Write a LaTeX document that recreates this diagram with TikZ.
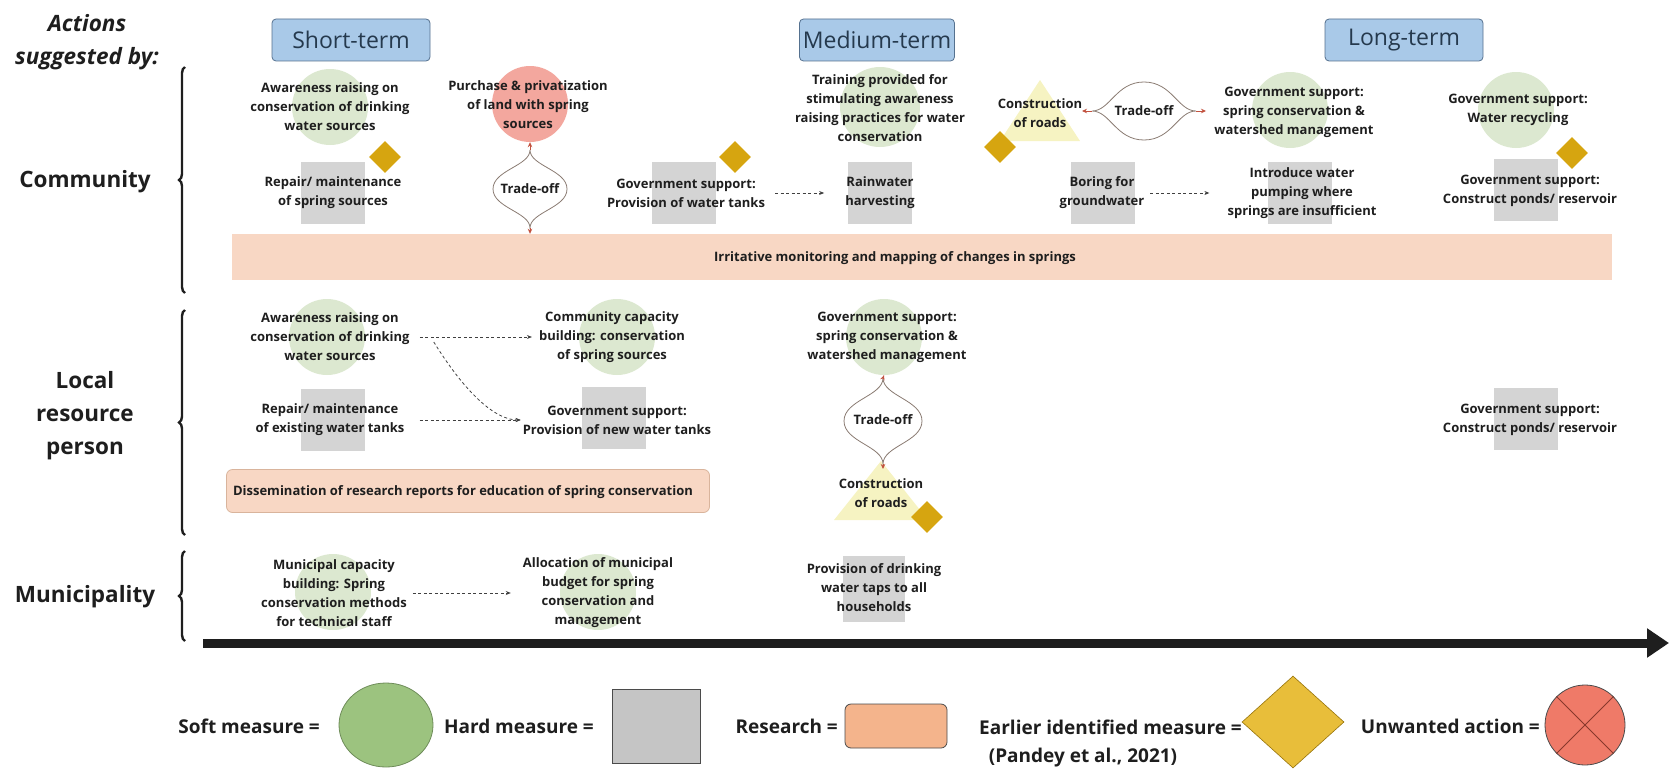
\documentclass[tikz,border=0pt]{standalone}
\usepackage{fontspec}
\setmainfont{Open Sans}
\usetikzlibrary{shapes.geometric,arrows.meta,decorations.pathreplacing}

\definecolor{ink}{HTML}{1E1E1E}
\definecolor{softc}{HTML}{DCE8D0}
\definecolor{hardc}{HTML}{D4D4D4}
\definecolor{unwc}{HTML}{F3A79E}
\definecolor{resc}{HTML}{F8D7C4}
\definecolor{resline}{HTML}{D9B49C}
\definecolor{goldc}{HTML}{D6A510}
\definecolor{roadc}{HTML}{F6F3C2}
\definecolor{termfill}{HTML}{A9C9E8}
\definecolor{termline}{HTML}{55718F}
\definecolor{termtext}{HTML}{25394D}
\definecolor{lensc}{HTML}{8A7B72}
\definecolor{tipc}{HTML}{C2523F}
\definecolor{lgsoft}{HTML}{9CC37F}
\definecolor{lgsoftb}{HTML}{6E8C59}
\definecolor{lghard}{HTML}{C5C5C5}
\definecolor{lgres}{HTML}{F4B48C}
\definecolor{lggold}{HTML}{E8BE3A}
\definecolor{lgred}{HTML}{EF7A68}

\begin{document}
\begin{tikzpicture}[x=1pt,y=-1pt,
  lbl/.style={font=\fontsize{13}{19}\selectfont\bfseries, text=ink, align=center, inner sep=0pt},
  rowlbl/.style={font=\fontsize{22.5}{33}\selectfont\bfseries, text=ink, align=center, inner sep=0pt},
  legendlbl/.style={font=\fontsize{19}{30}\selectfont\bfseries, text=ink, align=center, inner sep=0pt},
  term/.style={draw=termline, fill=termfill, rounded corners=4pt, line width=0.8pt,
    minimum width=158pt, minimum height=42pt, text=termtext, font=\fontsize{23}{26}\selectfont},
  soft/.style={circle, fill=softc, minimum size=76pt, inner sep=0pt},
  hard/.style={rectangle, fill=hardc, minimum width=64pt, minimum height=62pt, inner sep=0pt},
  unwanted/.style={circle, fill=unwc, minimum size=76pt, inner sep=0pt},
  earlier/.style={diamond, fill=goldc, minimum size=32pt, inner sep=0pt},
  research/.style={rectangle, fill=resc, inner sep=0pt},
  bracepath/.style={decorate, decoration={brace, amplitude=6pt, aspect=0.5}, line width=2.4pt, ink},
  lens/.style={draw=lensc, line width=0.8pt, fill=white},
  tiparrow/.style={draw=tipc, line width=0.8pt, -{Stealth[length=5pt,width=4.5pt]}},
  flow/.style={draw=ink!85, line width=0.8pt, dash pattern=on 3pt off 2.5pt, -{Stealth[length=5pt,width=4pt]}},
]
\useasboundingbox (0,0) rectangle (1669,768);

% ---------- headings ----------
\node[font=\fontsize{22.5}{33}\selectfont\bfseries\itshape, text=ink, align=center, inner sep=0pt] (hdr) at (87,42) {Actions\\suggested by:};
\node[term] (short) at (351,40) {Short-term};
\node[term, minimum width=155pt] (medium) at (877,40) {Medium-term};
\node[term] (long) at (1404,40) {Long-term};

% ---------- row labels and braces ----------
\node[rowlbl] (comm) at (85,182) {Community};
\node[rowlbl] (lrp) at (85,416) {Local\\resource\\person};
\node[rowlbl] (muni) at (85,597) {Municipality};
\draw[bracepath] (185,293) -- (185,67);
\draw[bracepath] (185,535) -- (185,310);
\draw[bracepath] (185,641) -- (185,551);

% ---------- research bands ----------
\node[research, minimum width=1380pt, minimum height=46pt] (band1) at (922,257) {};
\node[lbl] (band1t) at (895,258) {Irritative monitoring and mapping of changes in springs};
\node[research, draw=resline, line width=0.8pt, rounded corners=6pt, minimum width=483pt, minimum height=43pt] (band2) at (468,491) {};
\node[lbl] (band2t) at (463,492) {Dissemination of research reports for education of spring conservation};

% ---------- community: shapes ----------
\node[soft] (c1s) at (330,107) {};
\node[hard] (c2s) at (333,193) {};
\node[earlier] (c1d) at (385,157) {};
\node[unwanted] (c3s) at (530,104) {};
\node[hard] (c4s) at (684,193) {};
\node[earlier] (c4d) at (735,157) {};
\node[hard] (c5s) at (880,193) {};
\node[soft, minimum size=80pt] (c6s) at (880,107) {};
\fill[roadc] (1040,80) -- (1080,141) -- (1000,141) -- cycle;
\coordinate (c7s) at (1040,110);
\node[earlier] (c7d) at (1000,147) {};
\node[soft] (c8s) at (1290,110) {};
\node[hard] (c9s) at (1103,193) {};
\node[hard] (c10s) at (1300,193) {};
\node[soft] (c11s) at (1516,110) {};
\node[earlier] (c11d) at (1572,153) {};
\node[hard] (c12s) at (1526,190) {};

% ---------- community: texts ----------
\node[lbl] (c1) at (330,107) {Awareness raising on\\conservation of drinking\\water sources};
\node[lbl] (c2) at (333,193) {Repair/ maintenance\\of spring sources};
\node[lbl] (c3) at (528,105) {Purchase \& privatization\\of land with spring\\sources};
\node[lbl] (c4) at (686,193) {Government support:\\Provision of water tanks};
\node[lbl] (c5) at (880,193) {Rainwater\\harvesting};
\node[lbl] (c6) at (880,108) {Training provided for\\stimulating awareness\\raising practices for water\\conservation};
\node[lbl] (c7) at (1040,113) {Construction\\of roads};
\node[lbl] (c8) at (1294,112) {Government support:\\spring conservation \&\\watershed management};
\node[lbl] (c9) at (1102,193) {Boring for\\groundwater};
\node[lbl] (c10) at (1302,193) {Introduce water\\pumping where\\springs are insufficient};
\node[lbl] (c11) at (1518,110) {Government support:\\Water recycling};
\node[lbl] (c12) at (1530,191) {Government support:\\Construct ponds/ reservoir};

% trade-off between purchase of land and the monitoring band
\coordinate (v1t) at (530,150);
\coordinate (v1b) at (530,228);
\draw[lens] (530,150) .. controls (530,166) and (567,170) .. (567,189)
  .. controls (567,208) and (530,212) .. (530,228)
  .. controls (530,212) and (493,208) .. (493,189)
  .. controls (493,170) and (530,166) .. (530,150);
\node[lbl] (to1) at (530,189) {Trade-off};
\draw[tiparrow] (v1t) -- (c3s.south);
\draw[tiparrow] (v1b) -- (band1.north -| v1b);

% trade-off between road construction and spring conservation
\coordinate (h1l) at (1092,111);
\coordinate (h1r) at (1196,111);
\coordinate (h1la) at (1082,111);
\coordinate (h1ra) at (1206,111);
\draw[lens] (1092,111) .. controls (1110,111) and (1116,82) .. (1144,82)
  .. controls (1172,82) and (1178,111) .. (1196,111)
  .. controls (1178,111) and (1172,140) .. (1144,140)
  .. controls (1116,140) and (1110,111) .. (1092,111);
\node[lbl] (to2) at (1144,111) {Trade-off};
\draw[tiparrow] (h1l) -- (h1la);
\draw[tiparrow] (h1r) -- (h1ra);

% community flows
\draw[flow] ([xshift=10pt]c4.east) -- ([xshift=-21pt]c5.west);
\draw[flow] ([xshift=6pt]c9.east) -- ([xshift=-18pt]c10.west);

% ---------- local resource person ----------
\node[soft] (l1s) at (327,337) {};
\node[soft] (l2s) at (617,337) {};
\node[hard] (l3s) at (333,420) {};
\node[hard] (l4s) at (614,418) {};
\node[soft] (l5s) at (884,337) {};
\fill[roadc] (881,461) -- (928,520) -- (834,520) -- cycle;
\node[earlier] (l6d) at (927,517) {};
\node[hard] (l7s) at (1526,419) {};

\node[lbl] (l1) at (330,337) {Awareness raising on\\conservation of drinking\\water sources};
\node[lbl] (l2) at (612,337) {Community capacity\\building: conservation\\of spring sources};
\node[lbl] (l3) at (330,420) {Repair/ maintenance\\of existing water tanks};
\node[lbl] (l4) at (617,420) {Government support:\\Provision of new water tanks};
\node[lbl] (l5) at (887,337) {Government support:\\spring conservation \&\\watershed management};
\node[lbl] (l6) at (881,493) {Construction\\of roads};
\node[lbl] (l7) at (1530,420) {Government support:\\Construct ponds/ reservoir};

\coordinate (v2t) at (883,378);
\coordinate (v2b) at (883,464);
\draw[lens] (883,378) .. controls (883,396) and (922,400) .. (922,421)
  .. controls (922,442) and (883,446) .. (883,464)
  .. controls (883,446) and (844,442) .. (844,421)
  .. controls (844,400) and (883,396) .. (883,378);
\node[lbl] (to3) at (883,420) {Trade-off};
\draw[tiparrow] (v2t) -- (l5s.south);
\draw[tiparrow] (v2b) -- ++(0,5);

% local resource person flows (canvas shifts: negative yshift is downwards)
\draw[flow] ([xshift=10pt]l1.east) -- ([xshift=-7pt]l2.west);
\draw[flow] ([xshift=24pt,yshift=-5pt]l1.east) .. controls ([xshift=55pt,yshift=-55pt]l1.east) and ([xshift=-28pt]l4.west) .. ([xshift=-2pt]l4.west);
\draw[flow] ([xshift=15pt]l3.east) -- ([xshift=-2pt]l4.west);

% ---------- municipality ----------
\node[soft] (m1s) at (333,592) {};
\node[soft] (m2s) at (598,592) {};
\node[hard, minimum width=62pt, minimum height=66pt] (m3s) at (874,589) {};
\node[lbl] (m1) at (334,593) {Municipal capacity\\building: Spring\\conservation methods\\for technical staff};
\node[lbl] (m2) at (598,593) {Allocation of municipal\\budget for spring\\conservation and\\management};
\node[lbl] (m3) at (874,588) {Provision of drinking\\water taps to all\\households};
\draw[flow] ([xshift=6pt]m1.east) -- ([xshift=-12pt]m2.west);

% ---------- time axis ----------
\coordinate (axs) at (203,643);
\coordinate (axe) at (1669,643);
\draw[line width=9pt, ink, -{Triangle[length=22pt,width=28pt]}] (axs) -- (axe);

% ---------- legend ----------
\node[legendlbl, anchor=east] (lg1) at (320,726) {Soft measure =};
\node[ellipse, fill=lgsoft, draw=lgsoftb, line width=0.8pt, minimum width=94pt, minimum height=84pt] (lg1s) at (386,725) {};
\node[legendlbl, anchor=east] (lg2) at (594,726) {Hard measure =};
\node[rectangle, fill=lghard, draw=ink!80, line width=0.8pt, minimum width=88pt, minimum height=74pt] (lg2s) at (656,726) {};
\node[legendlbl, anchor=east] (lg3) at (838,726) {Research =};
\node[rectangle, rounded corners=6pt, fill=lgres, draw=ink!80, line width=0.8pt, minimum width=102pt, minimum height=44pt] (lg3s) at (896,726) {};
\node[legendlbl, anchor=east] (lg4) at (1242,727) {Earlier identified measure =};
\node[legendlbl] (lg4b) at (1083,758) {(Pandey et al., 2021)};
\node[diamond, fill=lggold, draw=goldc!70!black, line width=0.6pt, minimum width=102pt, minimum height=92pt, inner sep=0pt] (lg4s) at (1293,722) {};
\node[legendlbl, anchor=east] (lg5) at (1540,726) {Unwanted action =};
\node[circle, fill=lgred, draw=ink!80, line width=0.8pt, minimum size=80pt, inner sep=0pt] (lg5s) at (1585,725) {};
\draw[line width=0.8pt, tipc!70!black] (lg5s.north east) -- (lg5s.south west);
\draw[line width=0.8pt, tipc!70!black] (lg5s.north west) -- (lg5s.south east);
\end{tikzpicture}
\end{document}
